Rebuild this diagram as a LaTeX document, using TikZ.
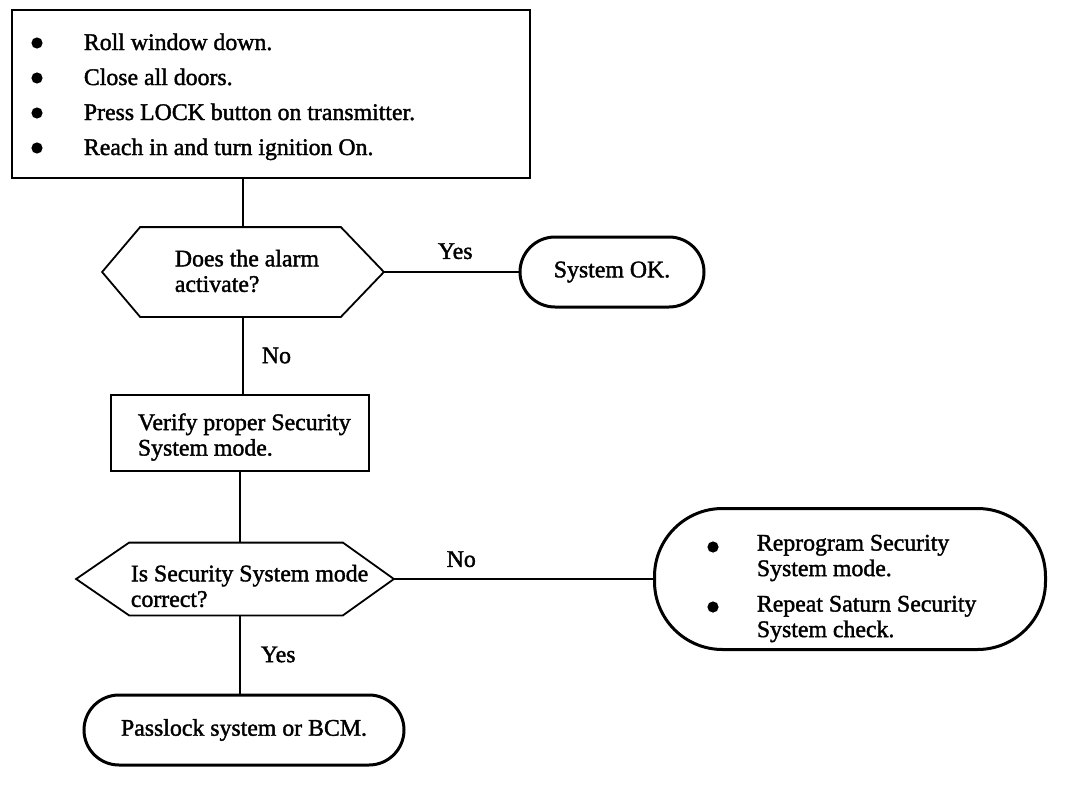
\documentclass[tikz,border=0pt]{standalone}
\usepackage{fontspec}
\setmainfont{Liberation Serif}
\newfontfamily\scanfont[FakeBold=1.6]{Liberation Serif}
\begin{document}
\begin{tikzpicture}[x=1pt,y=-1pt,line width=1.8pt,
  every node/.style={font=\scanfont\fontsize{23.8}{25.5}\selectfont, inner sep=0pt},
  frame/.style={draw, minimum width=#1},
  stad/.style={draw, line width=3pt, minimum width=#1},
  lbl/.style={anchor=base west}]
\useasboundingbox (0,0) rectangle (1072,790);
% start box
\node[frame=518pt, minimum height=168pt] (start) at (271,94) {};
\foreach \y/\t in {50/Roll window down., 85/Close all doors., 120/Press LOCK button on transmitter., 155/Reach in and turn ignition On.}{
  \fill (37,\y-7) circle (5.6pt);
  \node[lbl] at (83,\y) {\t};
}
% question 1
\node[minimum width=280pt, minimum height=88pt] (q1) at (243,272) {};
\draw (q1.west) -- ([xshift=38pt]q1.north west) -- ([xshift=-43pt]q1.north east) -- (q1.east)
  -- ([xshift=-43pt]q1.south east) -- ([xshift=38pt]q1.south west) -- cycle;
\node[anchor=west, align=left] (q1t) at (174,271) {Does the alarm\\activate?};
% system ok
\node[stad=184pt, minimum height=70pt, rounded corners=35pt] (ok) at (612,272) {System OK.};
% verify box
\node[frame=258pt, minimum height=76pt] (v) at (240,433) {};
\node[anchor=west, align=left] (vt) at (137,437) {Verify proper Security\\System mode.};
% question 2
\node[minimum width=316pt, minimum height=71pt] (q2) at (235,579) {};
\draw (q2.west) -- ([xshift=53pt]q2.north west) -- ([xshift=-51pt]q2.north east) -- (q2.east)
  -- ([xshift=-51pt]q2.south east) -- ([xshift=53pt]q2.south west) -- cycle;
\node[anchor=west, align=left] (q2t) at (130,586) {Is Security System mode\\correct?};
% reprogram
\node[stad=391pt, minimum height=141pt, rounded corners=68pt] (rp) at (850,579) {};
\fill (713,547) circle (5.6pt);
\fill (713,607) circle (5.6pt);
\node[anchor=west, align=left] (rp1) at (756,558) {Reprogram Security\\System mode.};
\node[anchor=west, align=left] (rp2) at (756,619) {Repeat Saturn Security\\System check.};
% passlock
\node[stad=320pt, minimum height=70pt, rounded corners=35pt] (pl) at (244,730) {Passlock system or BCM.};
% connectors
\draw (start.south -| q1.north) -- (q1.north);
\draw (q1.east) -- node[above=12pt, pos=0.53] {Yes} (ok.west);
\draw (q1.south) -- node[right=18pt, pos=0.5] {No} (q1.south |- v.north);
\draw (v.south) -- (v.south |- q2.north);
\draw (q2.east) -- node[above=11pt, pos=0.26] {No} (rp.west);
\draw (q2.south -| v.south) -- node[right=20pt, pos=0.5] {Yes} (v.south |- pl.north);
\end{tikzpicture}
\end{document}
